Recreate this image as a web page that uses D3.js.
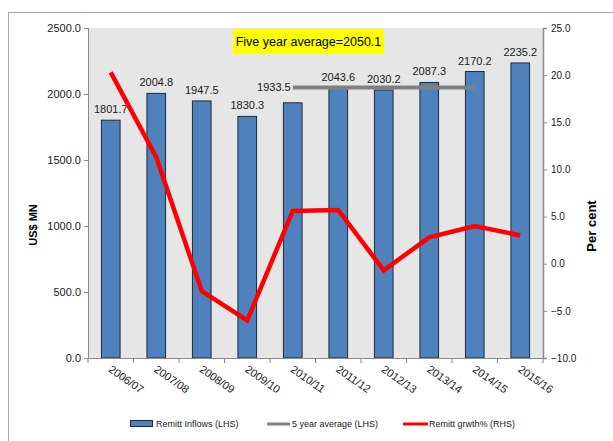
<!DOCTYPE html>
<html>
<head>
<meta charset="utf-8">
<script src="https://cdn.jsdelivr.net/npm/d3@7"></script>
<style>
  body { margin: 0; background: #fff; }
  svg { font-family: "Liberation Sans", Arial, sans-serif; }
</style>
</head>
<body>
<div id="chart"></div>
<script>
var years = ["2006/07", "2007/08", "2008/09", "2009/10", "2010/11", "2011/12", "2012/13", "2013/14", "2014/15", "2015/16"];
var inflows = [1801.7, 2004.8, 1947.5, 1830.3, 1933.5, 2043.6, 2030.2, 2087.3, 2170.2, 2235.2];
var growth = [20.3, 11.3, -2.9, -6.0, 5.6, 5.7, -0.7, 2.8, 4.0, 3.0];
var avgYears = ["2010/11", "2011/12", "2012/13", "2013/14", "2014/15"];
var avgValue = 2050.1;
var leftTicks = [0, 500, 1000, 1500, 2000, 2500];
var rightTicks = [-10, -5, 0, 5, 10, 15, 20, 25];

var width = 613, height = 441;
var margin = {left: 88, right: 70, top: 28, bottom: 83};

var svg = d3.select("#chart").append("svg")
    .attr("width", width).attr("height", height);

// outer chart border
svg.append("rect")
    .attr("x", 8.5).attr("y", 12.5)
    .attr("width", 620).attr("height", 440)
    .attr("fill", "none").attr("stroke", "#a6a6a6");

var x = d3.scaleBand().domain(years)
    .range([margin.left, width - margin.right])
    .paddingInner(0.59).paddingOuter(0.295);
var xb = d3.scaleBand().domain(years).range([margin.left, width - margin.right]);
var yL = d3.scaleLinear().domain([0, 2500]).range([height - margin.bottom, margin.top]);
var yR = d3.scaleLinear().domain([-10, 25]).range([height - margin.bottom, margin.top]);

// plot background
svg.append("rect")
    .attr("x", margin.left).attr("y", margin.top)
    .attr("width", width - margin.right - margin.left)
    .attr("height", height - margin.bottom - margin.top)
    .attr("fill", "#e6e6e6");

// bars
svg.selectAll(".bar").data(inflows).enter().append("rect")
    .attr("class", "bar")
    .attr("x", function (d, i) { return x(years[i]); })
    .attr("y", function (d) { return yL(d); })
    .attr("width", x.bandwidth())
    .attr("height", function (d) { return yL(0) - yL(d); })
    .attr("fill", "#4f81bd")
    .attr("stroke", "#1f2a36").attr("stroke-width", 1);

// bar labels (none on 2010/11, the average label sits there)
var labelData = inflows.map(function (v, i) { return {year: years[i], value: v}; })
    .filter(function (d) { return d.year !== avgYears[0]; });
svg.selectAll(".blabel").data(labelData).enter().append("text")
    .attr("class", "blabel")
    .attr("x", function (d) { return xb(d.year) + xb.bandwidth() / 2; })
    .attr("y", function (d) { return yL(d.value) - 7; })
    .attr("text-anchor", "middle")
    .attr("font-size", "11px").attr("fill", "#1a1a1a")
    .text(function (d) { return d.value.toFixed(1); });

// 5 year average line
var avgLine = d3.line()
    .x(function (d) { return xb(d) + xb.bandwidth() / 2; })
    .y(function () { return yL(avgValue); });
svg.append("path").datum(avgYears)
    .attr("d", avgLine)
    .attr("fill", "none").attr("stroke", "#808080").attr("stroke-width", 4);
svg.append("text")
    .attr("x", xb(avgYears[0]) + xb.bandwidth() / 2 - 2)
    .attr("y", yL(avgValue) + 4)
    .attr("text-anchor", "end")
    .attr("font-size", "11px").attr("fill", "#1a1a1a")
    .text(inflows[4].toFixed(1));

// growth line
var gLine = d3.line()
    .x(function (d, i) { return xb(years[i]) + xb.bandwidth() / 2; })
    .y(function (d) { return yR(d); });
svg.append("path").datum(growth)
    .attr("d", gLine)
    .attr("fill", "none").attr("stroke", "#ff0000")
    .attr("stroke-width", 4.5).attr("stroke-linejoin", "miter");

// axes
var leftAxis = svg.append("g")
    .attr("transform", "translate(" + margin.left + ",0)")
    .call(d3.axisLeft(yL).tickValues(leftTicks).tickSize(4).tickFormat(d3.format(".1f")));
leftAxis.selectAll("text").attr("font-size", "11px").attr("fill", "#1a1a1a");

var rightAxis = svg.append("g")
    .attr("transform", "translate(" + (width - margin.right) + ",0)")
    .call(d3.axisRight(yR).tickValues(rightTicks).tickSize(4).tickFormat(d3.format(".1f")));
rightAxis.selectAll("text").attr("font-size", "10px").attr("fill", "#1a1a1a").attr("x", 8);
rightAxis.select(".domain").attr("stroke-width", 1.5);

var bottomAxis = svg.append("g")
    .attr("transform", "translate(0," + (height - margin.bottom) + ")")
    .call(d3.axisBottom(xb).tickSize(0).tickFormat(""));
bottomAxis.selectAll(".tick").remove();
bottomAxis.selectAll(".btick").data(d3.range(years.length + 1)).enter().append("line")
    .attr("x1", function (i) { return margin.left + i * xb.step(); })
    .attr("x2", function (i) { return margin.left + i * xb.step(); })
    .attr("y1", 0).attr("y2", 5)
    .attr("stroke", "#868686");
svg.selectAll(".domain").attr("stroke", "#8c8c8c");
svg.selectAll(".tick line").attr("stroke", "#8c8c8c");

svg.selectAll(".xlabel").data(years).enter().append("text")
    .attr("transform", function (d) {
        return "translate(" + (xb(d) + xb.bandwidth() / 2 - 3) + "," + (height - margin.bottom + 13) + ") rotate(35)";
    })
    .attr("font-size", "11px").attr("fill", "#1a1a1a")
    .text(function (d) { return d; });

// axis titles
svg.append("text")
    .attr("transform", "translate(37,225) rotate(-90)")
    .attr("text-anchor", "middle")
    .attr("font-size", "11px").attr("font-weight", "bold")
    .text("US$ MN");
svg.append("text")
    .attr("transform", "translate(596,226) rotate(-90)")
    .attr("text-anchor", "middle")
    .attr("font-size", "13px").attr("font-weight", "bold")
    .text("Per cent");

// yellow note
svg.append("rect")
    .attr("x", 233).attr("y", 29).attr("width", 151).attr("height", 25)
    .attr("fill", "#ffff00");
svg.append("text")
    .attr("x", 308.5).attr("y", 46)
    .attr("text-anchor", "middle")
    .attr("font-size", "12.5px").attr("fill", "#000")
    .text("Five year average=" + avgValue.toFixed(1));

// legend
var legend = svg.append("g").attr("font-size", "9px").attr("fill", "#1a1a1a");
legend.append("rect")
    .attr("x", 130.5).attr("y", 420.5).attr("width", 22).attr("height", 6)
    .attr("fill", "#4f81bd").attr("stroke", "#1f2a36");
legend.append("text").attr("x", 156).attr("y", 427).text("Remitt Inflows (LHS)");
legend.append("line")
    .attr("x1", 267).attr("x2", 290).attr("y1", 424).attr("y2", 424)
    .attr("stroke", "#808080").attr("stroke-width", 3);
legend.append("text").attr("x", 292).attr("y", 427).text("5 year average (LHS)");
legend.append("line")
    .attr("x1", 403).attr("x2", 428).attr("y1", 424).attr("y2", 424)
    .attr("stroke", "#ff0000").attr("stroke-width", 3);
legend.append("text").attr("x", 429).attr("y", 427).text("Remitt grwth% (RHS)");
</script>
</body>
</html>
